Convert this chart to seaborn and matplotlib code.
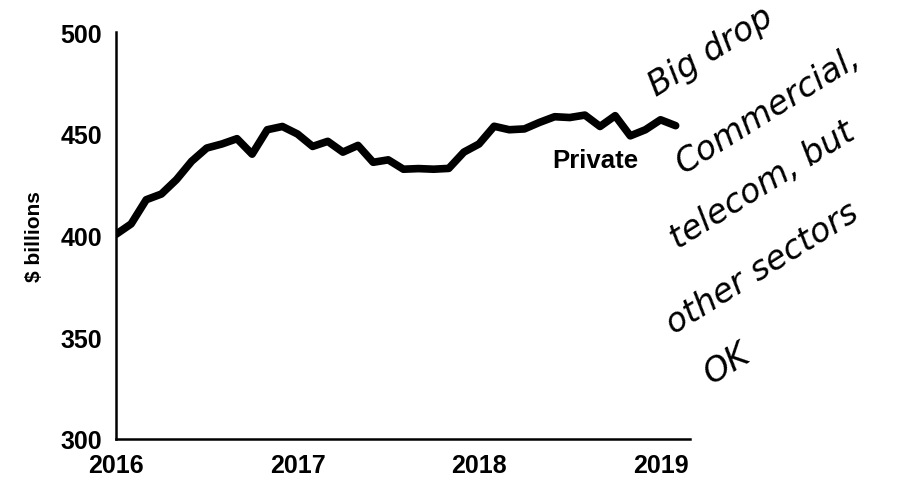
import pandas as pd
import matplotlib.pyplot as plt
import seaborn as sns

# Monthly private construction spending, Jan 2016 - Feb 2019 ($ billions)
start_year = 2016
private = [400.6, 405.7, 417.6, 420.4, 427.5, 436.5, 443.0, 445.0, 447.6, 440.0,
           452.0, 453.6, 449.9, 443.8, 446.3, 441.0, 444.3, 436.0, 437.2, 432.6,
           432.9, 432.6, 433.0, 441.0, 445.0, 453.7, 452.0, 452.4, 455.6, 458.4,
           458.0, 459.2, 453.6, 458.9, 449.0, 452.0, 456.9, 454.0]
year_ticks = [2016, 2017, 2018, 2019]
value_ticks = [300, 350, 400, 450, 500]
note_lines = ["Big drop", "Commercial,", "telecom, but", "other sectors", "OK"]

df = pd.DataFrame({'month': range(len(private)), 'value': private})
df['year'] = start_year + df['month'] / 12

sns.set_style('white')
plt.rcParams['font.family'] = ['Liberation Sans', 'DejaVu Sans']
plt.rcParams['text.color'] = 'black'
plt.rcParams['axes.labelcolor'] = 'black'

fig = plt.figure(figsize=(9.09, 4.85), dpi=100)
ax = fig.add_axes([0.1276, 0.0928, 0.631, 0.839])
sns.lineplot(x='year', y='value', data=df, color='black', linewidth=5.5, ax=ax)

ax.set_xlim(2016, 2019.16)
ax.set_ylim(300, 500)
ax.set_xticks(year_ticks)
ax.set_yticks(value_ticks)
ax.tick_params(axis='both', direction='out', length=6, width=1.5, colors='black',
               labelsize=18, pad=4)
for lbl in ax.get_xticklabels() + ax.get_yticklabels():
    lbl.set_fontweight('bold')
ax.set_xlabel('')
ax.set_ylabel('$ billions', fontsize=15, fontweight='bold', labelpad=12)
sns.despine(ax=ax)
for side in ['left', 'bottom']:
    ax.spines[side].set_color('black')
    ax.spines[side].set_linewidth(1.8)

ax.text(2018.64, 437, 'Private', fontsize=18.5, fontweight='bold', ha='center', va='center')

# handwritten note on the right
note_pos = [(0.722, 0.80), (0.752, 0.64), (0.746, 0.485), (0.741, 0.31), (0.783, 0.206)]
for txt, (x, y) in zip(note_lines, note_pos):
    fig.text(x, y, txt, fontsize=24, fontstyle='italic', family='DejaVu Sans',
             fontweight='light', rotation=32, rotation_mode='anchor',
             ha='left', va='baseline', color='black')

plt.savefig('out.png', dpi=100)
